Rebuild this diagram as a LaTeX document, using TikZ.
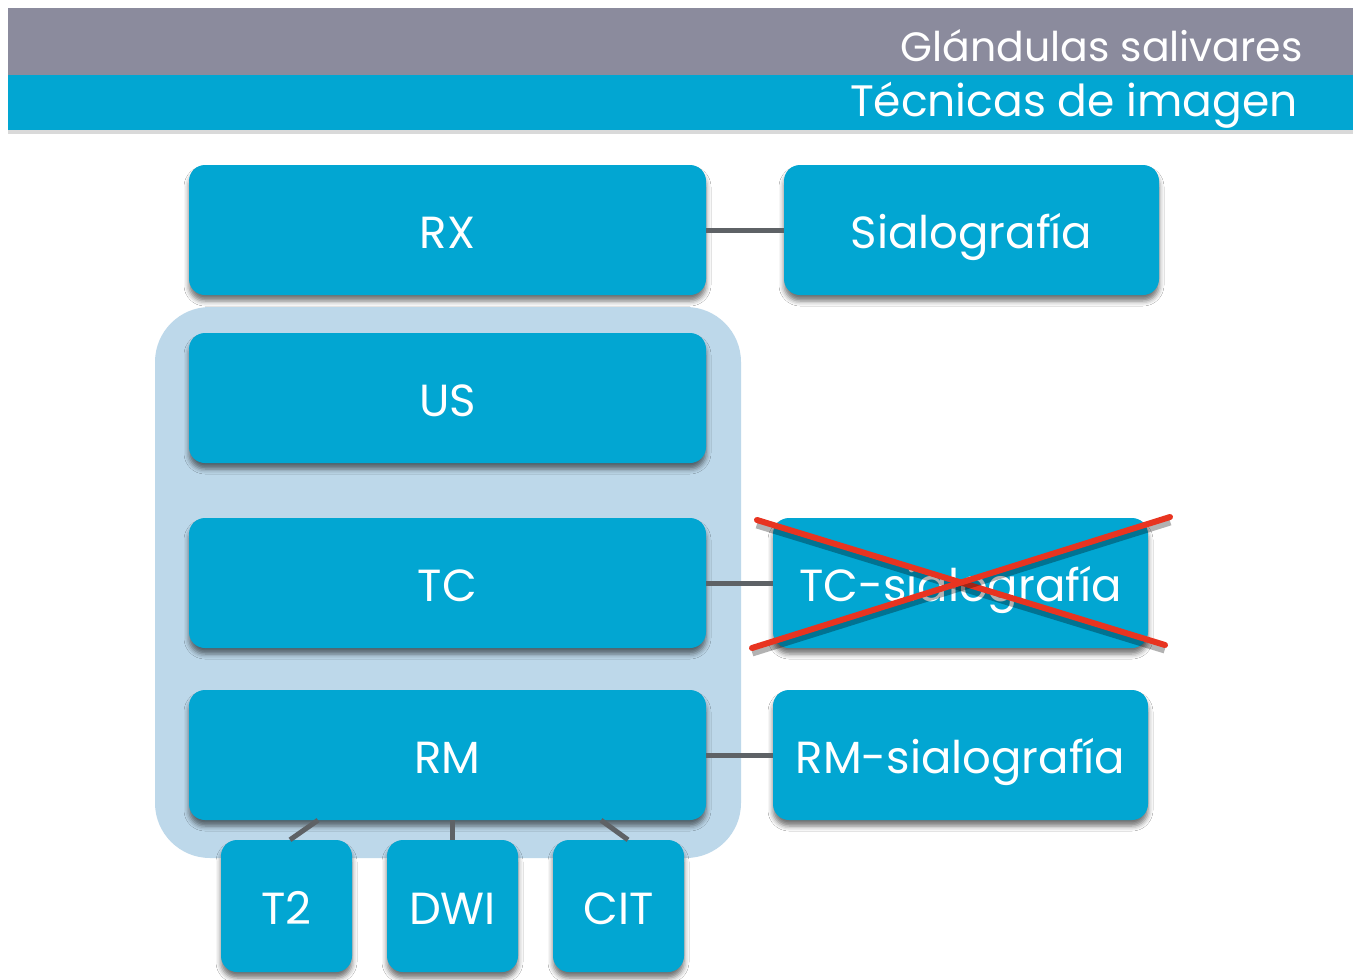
\documentclass[tikz,border=0pt]{standalone}
\usepackage{fontspec}
\setmainfont{Poppins}
\usetikzlibrary{shadows,shadows.blur,calc}
\definecolor{boxblue}{HTML}{02A6D2}
\definecolor{headgray}{HTML}{8B8B9D}
\definecolor{panel}{HTML}{BDD8EA}
\definecolor{linkgray}{HTML}{5E6266}
\definecolor{crossred}{HTML}{E83420}
\tikzset{
  box/.style={draw=none, fill=boxblue, rounded corners=16pt, text=white, font=\fontsize{45}{50}\selectfont,
    text height=37pt, text depth=0pt,
    blur shadow={shadow xshift=0pt, shadow yshift=-6pt, shadow blur radius=5pt, shadow opacity=55}},
  wide/.style={minimum width=517pt, minimum height=130pt},
  side/.style={minimum width=375pt, minimum height=130pt},
  small/.style={minimum width=131pt, minimum height=132pt},
  link/.style={draw=linkgray, line width=5pt},
  cross/.style={draw=crossred, line width=6pt, line cap=round,
    preaction={draw=black, opacity=0.3, line width=9pt, transform canvas={yshift=-4pt}}},
  title/.style={anchor=base east, text=white, inner sep=0pt},
}
\begin{document}
\begin{tikzpicture}[x=1pt,y=-1pt]
\useasboundingbox (0,0) rectangle (1353,980);
\fill[white] (0,0) rectangle (1353,980);
% header
\fill[black!15] (8,10) rectangle (1353,134);
\fill[headgray] (8,8) rectangle (1353,75);
\fill[boxblue] (8,75) rectangle (1353,130);
\node[title, font=\fontsize{41}{44}\selectfont] (t1) at (1303,61) {Glándulas salivares};
\node[title, font=\fontsize{44}{48}\selectfont] (t2) at (1298,116) {Técnicas de imagen};
% panel
\fill[panel, rounded corners=55pt] (155,307) rectangle (741,858);
% boxes
\node[box, wide] (rx) at (447.5,230) {RX};
\node[box, side] (sial) at (971.5,230) {Sialografía};
\node[box, wide] (us) at (447.5,398) {US};
\node[box, wide] (tc) at (447.5,583) {TC};
\node[box, side] (tcs) at (960.5,583) {TC-sialografía};
\node[box, wide] (rm) at (447.5,755) {RM};
\node[box, side] (rms) at (960.5,755) {RM-sialografía};
\node[box, small] (t2b) at (286.5,906) {T2};
\node[box, small] (dwi) at (452.5,906) {DWI};
\node[box, small] (cit) at (618.5,906) {CIT};
% connectors
\draw[link] (rx.east) -- (sial.west);
\draw[link] (tc.east) -- (tcs.west);
\draw[link] (rm.east) -- (rms.west);
\draw[link] (rm.south -| 318,0) -- (t2b.north -| 290,0);
\draw[link] (rm.south -| 452,0) -- (dwi.north -| 452,0);
\draw[link] (rm.south -| 601,0) -- (cit.north -| 628,0);
% red cross
\coordinate (c1) at (757,520);
\coordinate (c2) at (1165,645);
\coordinate (c3) at (752,648);
\coordinate (c4) at (1170,517);
\draw[cross] (c1) -- (c2);
\draw[cross] (c3) -- (c4);
\end{tikzpicture}
\end{document}
